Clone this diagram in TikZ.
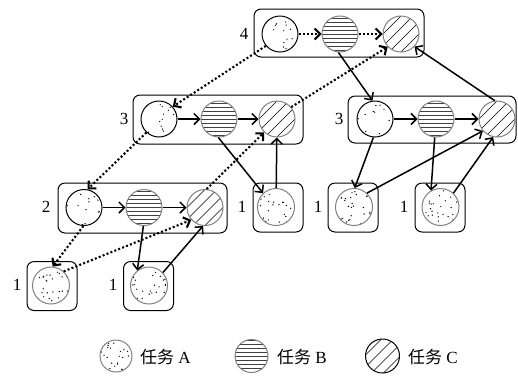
\documentclass[tikz,border=0pt]{standalone}
\usepackage{fontspec}
\setmainfont{Liberation Serif}
\newfontfamily\cjk{Noto Sans CJK SC}
\usetikzlibrary{arrows.meta}
\tikzset{
  tbox/.style={draw, rounded corners=7pt, line width=1pt, inner sep=0pt},
  dotsfill/.style={path picture={\foreach \k in {1,...,#1} {\fill ([shift={(rand*17pt,rand*17pt)}]path picture bounding box.center) circle (0.7pt);}}},
  ta/.style={circle, draw=black, line width=1pt, minimum size=36pt, inner sep=0pt, dotsfill=13},
  ta1/.style={circle, draw=gray, line width=1pt, minimum size=37pt, inner sep=0pt, dotsfill=26},
  tb/.style={circle, draw=gray, line width=1pt, minimum size=36pt, inner sep=0pt,
    path picture={\foreach \k in {-16,-12,...,16} \draw[black!75, line width=0.6pt] ([shift={(-20pt,\k pt)}]path picture bounding box.center) -- ([shift={(20pt,\k pt)}]path picture bounding box.center);}},
  tc/.style={circle, draw=gray, line width=1pt, minimum size=36pt, inner sep=0pt,
    path picture={\foreach \k in {-18,-6,6,18} \draw[black, line width=0.6pt] ([shift={(-22pt,-22pt+\k pt)}]path picture bounding box.center) -- ([shift={(22pt,22pt+\k pt)}]path picture bounding box.center);}},
  num/.style={font=\fontsize{17}{19}\selectfont, inner sep=0pt},
  leg/.style={font=\fontsize{17}{19}\selectfont, inner sep=0pt, anchor=west},
  arr/.style={-{Straight Barb[length=5.5pt,width=11pt]}, line width=1.5pt},
  dl/.style={arr, line width=2.1pt, dash pattern=on 2pt off 2.2pt},
}
\begin{document}
\begin{tikzpicture}[x=1pt,y=-1pt]
\pgfmathsetseed{11}
\useasboundingbox (0,0) rectangle (518,376);
% boxes
\node[tbox, minimum width=170pt, minimum height=48pt] (L4) at (339,33) {};
\node[tbox, minimum width=170pt, minimum height=49pt] (L3l) at (218,119.5) {};
\node[tbox, minimum width=168pt, minimum height=47pt] (L3r) at (432,119.5) {};
\node[tbox, minimum width=169pt, minimum height=50pt] (L2) at (142.5,208) {};
\node[tbox, minimum width=50pt, minimum height=49pt] (O1) at (52,286) {};
\node[tbox, minimum width=50pt, minimum height=49pt] (O2) at (148.5,286) {};
\node[tbox, minimum width=50pt, minimum height=49pt] (O3) at (278,207.5) {};
\node[tbox, minimum width=50pt, minimum height=49pt] (O4) at (353,207.5) {};
\node[tbox, minimum width=50pt, minimum height=49pt] (O5) at (440,207.5) {};
% labels
\node[num] (n4) at (244,34) {4};
\node[num] (n3l) at (124,119) {3};
\node[num] (n3r) at (339,119) {3};
\node[num] (n2) at (46,207) {2};
\node[num] (n1a) at (17,285) {1};
\node[num] (n1b) at (113,285) {1};
\node[num] (n1c) at (242,207) {1};
\node[num] (n1d) at (318,207) {1};
\node[num] (n1e) at (404,207) {1};
% circles
\node[ta] (A4) at (280,34) {};
\node[tb] (B4) at (340,34) {};
\node[tc] (C4) at (401,34) {};
\node[ta] (A3l) at (159,119) {};
\node[tb] (B3l) at (219,119) {};
\node[tc] (C3l) at (277,119) {};
\node[ta] (A3r) at (375,119) {};
\node[tb] (B3r) at (436,119) {};
\node[tc] (C3r) at (497,119) {};
\node[ta] (A2) at (84,207.5) {};
\node[tb] (B2) at (144,207.5) {};
\node[tc] (C2) at (205,207.5) {};
\node[ta1] (P1) at (51,285.5) {};
\node[ta1] (P2) at (149,285.5) {};
\node[ta1] (P3) at (276,207) {};
\node[ta1] (P4) at (354,207) {};
\node[ta1] (P5) at (440.5,207) {};
% in-box arrows
\draw[dl] (A4) -- (B4);
\draw[dl] (B4) -- (C4);
\draw[arr] (A3l) -- (B3l);
\draw[arr] (B3l) -- (C3l);
\draw[arr] (A3r) -- (B3r);
\draw[arr] (B3r) -- (C3r);
\draw[arr] (A2) -- (B2);
\draw[arr] (B2) -- (C2);
% dotted connectors
\draw[dl] (A4.220) -- (A3l.42);
\draw[dl] (A3l.227) -- (A2.79);
\draw[dl] (A2.268) -- (P1.85);
\draw[dl] (P1.48) -- (C2.222);
\draw[dl] (C2.85) -- (C3l.226);
\draw[dl] (C3l.40) -- (C4.224);
% solid connectors
\draw[arr] (B2.268) -- (P2.128);
\draw[arr] (P2.43) -- (C2.264);
\draw[arr] (B3l.268) -- (P3.133);
\draw[arr] (P3) -- (C3l);
\draw[arr] (B4.265) -- (A3r.98);
\draw[arr] (C3r.97) -- (C4.317);
\draw[arr] (A3r.265) -- (P4.88);
\draw[arr] (P4.47) -- (C3r.220);
\draw[arr] (B3r.266) -- (P5.120);
\draw[arr] (P5.47) -- (C3r.258);
% legend
\node[ta1, minimum size=32pt] (LA) at (116,356) {};
\node[tb, minimum size=33pt] (LB) at (251.5,356) {};
\node[tc, draw=black, minimum size=34pt] (LC) at (382.5,356) {};
\node[leg] (TA) at (140,357) {{\cjk 任务} A};
\node[leg] (TB) at (277,357) {{\cjk 任务} B};
\node[leg] (TC) at (408,357) {{\cjk 任务} C};
\end{tikzpicture}
\end{document}
